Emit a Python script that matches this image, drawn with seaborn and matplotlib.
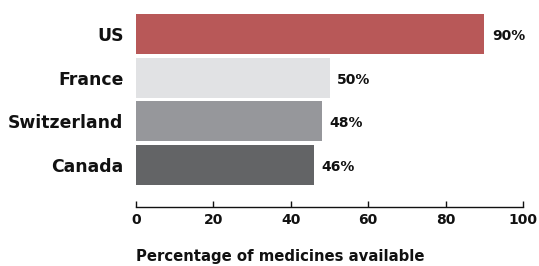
import matplotlib
matplotlib.use("Agg")
import matplotlib.pyplot as plt
import seaborn as sns
import pandas as pd

countries = ["US", "France", "Switzerland", "Canada"]
values = [90, 50, 48, 46]
colors = ["#B85858", "#E1E2E4", "#96979B", "#636466"]
xticks = [0, 20, 40, 60, 80, 100]

sns.set_theme(style="white")
plt.rcParams['font.family'] = ['DejaVu Sans']

df = pd.DataFrame({"country": countries, "value": values})

fig = plt.figure(figsize=(5.39, 2.66), dpi=100)
ax = fig.add_axes([136/539, 1-207/266, (523-136)/539, (207-14)/266])
sns.barplot(data=df, x="value", y="country", hue="country", palette=colors,
            legend=False, width=0.92, ax=ax, saturation=1, edgecolor="none", linewidth=0)

ax.set_xlim(0, 100)
ax.set_ylim(3.97, -0.46)
ax.set_xticks(xticks)
ax.set_xticklabels([str(t) for t in xticks], fontsize=10, fontweight="bold", color="#111111")
ax.tick_params(axis="x", direction="in", length=4, width=1, color="#111111", pad=4.5, bottom=True)
ax.tick_params(axis="y", length=0, pad=9)
for lbl in ax.get_yticklabels():
    lbl.set_fontsize(12.4)
    lbl.set_fontweight("bold")
    lbl.set_color("#111111")
for s in ["top", "right", "left"]:
    ax.spines[s].set_visible(False)
ax.spines["bottom"].set_color("#111111")
ax.spines["bottom"].set_linewidth(1)
ax.set_ylabel("")
ax.set_xlabel("Percentage of medicines available", fontsize=10.7, fontweight="bold",
              color="#111111", loc="left", labelpad=16)

for i, v in enumerate(values):
    ax.text(v + 2, i + 0.05, f"{v}%", va="center", ha="left", fontsize=10,
            fontweight="bold", color="#111111")

fig.savefig("out.png", dpi=100)
